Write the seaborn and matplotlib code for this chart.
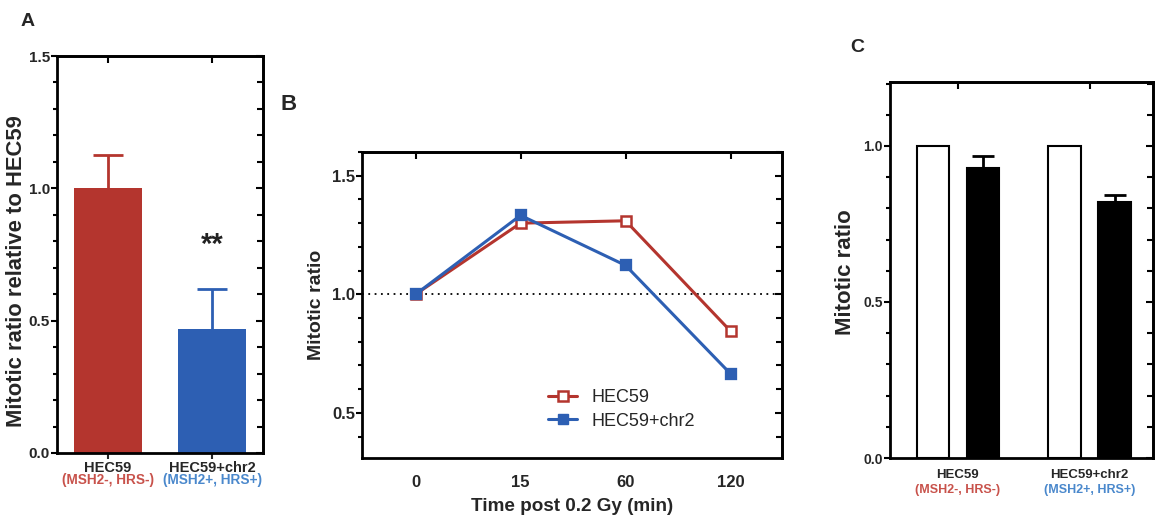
import numpy as np
import pandas as pd
import matplotlib
matplotlib.use("Agg")
import matplotlib.pyplot as plt
import matplotlib.transforms as mtrans
from matplotlib.lines import Line2D
from matplotlib.ticker import MultipleLocator
import seaborn as sns

# ---------------- data ----------------
# Panel A
a_cells = ["HEC59", "HEC59+chr2"]
a_sub = ["(MSH2-, HRS-)", "(MSH2+, HRS+)"]
a_mean = [1.0, 0.467]
a_err = [0.125, 0.153]

# Panel B
b_times = ["0", "15", "60", "120"]
b_hec59 = [1.0, 1.30, 1.31, 0.845]
b_chr2 = [1.0, 1.333, 1.122, 0.665]
b_series = ["HEC59", "HEC59+chr2"]

# Panel C
c_cells = ["HEC59", "HEC59+chr2"]
c_cond = ["control", "0.2 Gy"]
c_control = [1.0, 1.0]
c_irr = [0.929, 0.82]
c_irr_err = [0.038, 0.023]

RED = "#b4352e"
BLUE = "#2d5fb3"
RED_T = "#c8524b"
BLUE_T = "#4a88cc"

sns.set_theme(style="white")
plt.rcParams["font.family"] = ["Liberation Sans", "DejaVu Sans"]
plt.rcParams["axes.linewidth"] = 2.0

fig = plt.figure(figsize=(11.64, 5.18), dpi=100)
W, H = 1164.0, 518.0


def add_axes(l, t, r, b):
    return fig.add_axes([l / W, 1 - b / H, (r - l) / W, (b - t) / H])


def style_frame(ax, ymajor, yminor, fs):
    for s in ax.spines.values():
        s.set_visible(True)
        s.set_linewidth(2.0)
        s.set_color("black")
    ax.yaxis.set_major_locator(MultipleLocator(ymajor))
    ax.yaxis.set_minor_locator(MultipleLocator(yminor))
    ax.tick_params(axis="y", which="both", left=True, direction="out",
                   width=1.5, color="black")
    ax.tick_params(axis="y", which="major", length=4, labelsize=fs, pad=1)
    ax.tick_params(axis="y", which="minor", length=3)
    ax.tick_params(axis="x", bottom=True, direction="out", length=4, width=1.5)
    for lab in ax.get_yticklabels():
        lab.set_fontweight("bold")
    # right side inward ticks
    sec = ax.secondary_yaxis("right")
    sec.yaxis.set_major_locator(MultipleLocator(ymajor))
    sec.yaxis.set_minor_locator(MultipleLocator(yminor))
    sec.tick_params(axis="y", which="both", direction="in", width=1.5,
                    labelright=False, color="black")
    sec.tick_params(axis="y", which="major", length=5)
    sec.tick_params(axis="y", which="minor", length=4)
    sec.spines["right"].set_linewidth(2.0)
    # top side inward ticks at category positions
    topx = ax.secondary_xaxis("top")
    topx.set_xticks(ax.get_xticks())
    topx.tick_params(axis="x", direction="in", length=5, width=1.5,
                     labeltop=False, color="black")
    topx.spines["top"].set_linewidth(2.0)


def upper_err(ax, x, m, e, color, capsize):
    eb = ax.errorbar(x, m, yerr=[[0], [e]], color=color, capsize=capsize,
                     elinewidth=2, capthick=2, fmt="none")
    caps = eb[1]
    if len(caps) >= 2:
        caps[0].set_visible(False)


# ---------------- Panel A ----------------
axA = add_axes(57, 56, 263, 453)
dfA = pd.DataFrame({"cell": a_cells, "ratio": a_mean})
sns.barplot(data=dfA, x="cell", y="ratio", hue="cell", palette=[RED, BLUE],
            width=0.66, errorbar=None, legend=False, ax=axA, linewidth=0,
            saturation=1)
for i, (m, e, c) in enumerate(zip(a_mean, a_err, [RED, BLUE])):
    upper_err(axA, i, m, e, c, 11)
axA.set_xlim(-0.49, 1.49)
axA.set_ylim(0, 1.5)
axA.set_xlabel("")
axA.set_ylabel("Mitotic ratio relative to HEC59", fontsize=15.8,
               fontweight="bold")
axA.yaxis.set_label_coords(-0.145, 0.458)
axA.set_xticks(range(len(a_cells)))
axA.set_xticklabels(a_cells, fontsize=10.5, fontweight="bold")
axA.tick_params(axis="x", pad=2)
style_frame(axA, 0.5, 0.1, 11)
trA = mtrans.blended_transform_factory(axA.transData, axA.transAxes)
for i, (s, c) in enumerate(zip(a_sub, [RED_T, BLUE_T])):
    axA.text(i, -0.068, s, transform=trA, ha="center", va="center",
             fontsize=9.8, fontweight="bold", color=c)
axA.text(1, 0.785, "**", ha="center", va="center", fontsize=21,
         fontweight="bold", color="#222222")

# ---------------- Panel B ----------------
axB = add_axes(362, 152, 782, 458)
dfB = pd.DataFrame({
    "time": b_times * 2,
    "ratio": b_hec59 + b_chr2,
    "line": [b_series[0]] * len(b_times) + [b_series[1]] * len(b_times),
})
axB.axhline(1.0, color="black", ls=(0, (1, 2.5)), lw=1.3, zorder=1)
sns.pointplot(data=dfB, x="time", y="ratio", hue="line", order=b_times,
              palette=[RED, BLUE], markers="s", errorbar=None,
              linewidth=2.2, markersize=7, ax=axB, legend=False)
for ln in axB.lines[1:]:
    if matplotlib.colors.to_hex(ln.get_color()) == RED:
        ln.set_markerfacecolor("white")
        ln.set_markeredgewidth(1.8)
axB.set_xlim(-0.51, 3.49)
axB.set_ylim(0.31, 1.6)
axB.set_xlabel("Time post 0.2 Gy (min)", fontsize=13.6, fontweight="bold",
               labelpad=6)
axB.set_ylabel("Mitotic ratio", fontsize=14, fontweight="bold", labelpad=5)
axB.set_xticks(range(len(b_times)))
axB.set_xticklabels(b_times, fontsize=12, fontweight="bold")
axB.tick_params(axis="x", bottom=False, pad=8)
style_frame(axB, 0.5, 0.1, 12)
axB.tick_params(axis="x", bottom=False)
handles = [
    Line2D([0], [0], color=RED, lw=2.2, marker="s", markersize=7,
           markerfacecolor="white", markeredgewidth=1.8),
    Line2D([0], [0], color=BLUE, lw=2.2, marker="s", markersize=7),
]
axB.legend(handles, b_series, loc="lower left", bbox_to_anchor=(0.405, 0.04),
           frameon=False, fontsize=13, handlelength=1.6, handletextpad=0.8,
           labelspacing=0.35)

# ---------------- Panel C ----------------
axC = add_axes(890, 82, 1153, 458)
dfC = pd.DataFrame({
    "cell": c_cells * 2,
    "ratio": c_control + c_irr,
    "cond": [c_cond[0]] * len(c_cells) + [c_cond[1]] * len(c_cells),
})
sns.barplot(data=dfC, x="cell", y="ratio", hue="cond", hue_order=c_cond,
            palette=["white", "black"], edgecolor="black", linewidth=1.5,
            width=0.76, gap=0.35, errorbar=None, legend=False, ax=axC,
            saturation=1)
irr_bars = [p for p in axC.patches
            if matplotlib.colors.to_hex(p.get_facecolor()) == "#000000"]
irr_bars.sort(key=lambda p: p.get_x())
for p, m, e in zip(irr_bars, c_irr, c_irr_err):
    upper_err(axC, p.get_x() + p.get_width() / 2, m, e, "black", 8)
axC.set_xlim(-0.515, 1.48)
axC.set_ylim(0, 1.205)
axC.set_xlabel("")
axC.set_ylabel("Mitotic ratio", fontsize=16, fontweight="bold")
axC.yaxis.set_label_coords(-0.128, 0.494)
axC.set_xticks(range(len(c_cells)))
axC.set_xticklabels(c_cells, fontsize=9.5, fontweight="bold")
axC.tick_params(axis="x", bottom=False, pad=4)
style_frame(axC, 0.5, 0.1, 10)
axC.tick_params(axis="x", bottom=False)
trC = mtrans.blended_transform_factory(axC.transData, axC.transAxes)
for i, (s, c) in enumerate(zip(a_sub, [RED_T, BLUE_T])):
    axC.text(i, -0.085, s, transform=trC, ha="center", va="center",
             fontsize=9, fontweight="bold", color=c)

# panel letters
fig.text(28 / W, 1 - 22 / H, "A", fontsize=14, fontweight="bold",
         ha="center", va="center")
fig.text(289 / W, 1 - 105 / H, "B", fontsize=16, fontweight="bold",
         ha="center", va="center")
fig.text(857 / W, 1 - 47 / H, "C", fontsize=14, fontweight="bold",
         ha="center", va="center")

fig.savefig("out.png", dpi=100)
